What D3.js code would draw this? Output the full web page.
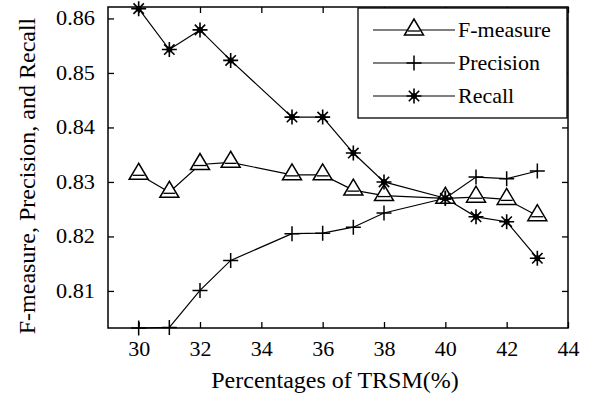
<!DOCTYPE html>
<html>
<head>
<meta charset="utf-8">
<script src="https://cdn.jsdelivr.net/npm/d3@7"></script>
<style>
  body { margin: 0; background: #fff; }
  text { font-family: "Liberation Serif", "Times New Roman", serif; fill: #000; }
</style>
</head>
<body>
<div id="chart"></div>
<script>
var svgWidth = 591;
var svgHeight = 397;

var margin = { top: 7, right: 23, bottom: 69, left: 108 };
var width = svgWidth - margin.left - margin.right;
var height = svgHeight - margin.top - margin.bottom;

// data
var percentages = [30, 31, 32, 33, 35, 36, 37, 38, 40, 41, 42, 43];
var fMeasure = [0.8314, 0.8281, 0.8332, 0.8336, 0.8313, 0.8313, 0.8285, 0.8275, 0.8270, 0.8272, 0.8268, 0.8238];
var precision = [0.8032, 0.8033, 0.8101, 0.8156, 0.8205, 0.8206, 0.8217, 0.8243, 0.8270, 0.8309, 0.8306, 0.8320];
var recall = [0.8618, 0.8543, 0.8579, 0.8523, 0.8419, 0.8419, 0.8353, 0.8300, 0.8270, 0.8236, 0.8227, 0.8160];
var xTicks = [30, 32, 34, 36, 38, 40, 42, 44];
var yTicks = [0.81, 0.82, 0.83, 0.84, 0.85, 0.86];
var seriesNames = ["F-measure", "Precision", "Recall"];

var svg = d3.select("#chart")
  .append("svg")
  .attr("width", svgWidth)
  .attr("height", svgHeight);

var chartGroup = svg.append("g")
  .attr("transform", `translate(${margin.left}, ${margin.top})`);

var xScale = d3.scaleLinear().domain([29, 44]).range([0, width]);
var yScale = d3.scaleLinear().domain([0.8032, 0.8621]).range([height, 0]);

// axes with inward ticks on all four sides
function styleAxis(g, size) {
  g.attr("font-family", null).attr("font-size", null);
  g.select(".domain").remove();
  g.selectAll("line").attr("stroke", "#000").attr("stroke-width", 1.3);
  g.selectAll("text")
    .style("font-family", "'Liberation Serif', serif")
    .style("font-size", size + "px");
}

chartGroup.append("g")
  .attr("transform", `translate(0, ${height})`)
  .call(d3.axisBottom(xScale).tickValues(xTicks).tickSize(-6).tickPadding(12).tickFormat(d3.format("d")))
  .call(styleAxis, 22);

chartGroup.append("g")
  .call(d3.axisTop(xScale).tickValues(xTicks).tickSize(-6).tickFormat(""))
  .call(styleAxis, 22);

var yAxis = chartGroup.append("g")
  .call(d3.axisLeft(yScale).tickValues(yTicks).tickSize(-6).tickPadding(13).tickFormat(d3.format(".2f")))
  .call(styleAxis, 20);
// the labels in the picture are drawn a little wider than the font
yAxis.selectAll("text")
  .attr("textLength", 39)
  .attr("lengthAdjust", "spacingAndGlyphs");

chartGroup.append("g")
  .attr("transform", `translate(${width}, 0)`)
  .call(d3.axisRight(yScale).tickValues(yTicks).tickSize(-6).tickFormat(""))
  .call(styleAxis, 20);

chartGroup.append("rect")
  .attr("width", width)
  .attr("height", height)
  .attr("fill", "none")
  .attr("stroke", "#000")
  .attr("stroke-width", 1.5);

// markers
function triangle(g) {
  g.append("path").attr("d", "M0,-11 L-9.5,5 L9.5,5 Z")
    .attr("fill", "#fff").attr("stroke", "#000").attr("stroke-width", 1.5);
  g.append("line").attr("x1", -6).attr("x2", 6).attr("y1", 1).attr("y2", 1)
    .attr("stroke", "#000").attr("stroke-width", 1.3);
}
function plus(g) {
  g.append("path").attr("d", "M-7.5,0 H7.5 M0,-7.5 V7.5")
    .attr("stroke", "#000").attr("stroke-width", 1.5).attr("fill", "none");
}
function star(g) {
  g.append("path").attr("d", "M-7.5,0 H7.5 M0,-7.5 V7.5 M-5.2,-5.2 L5.2,5.2 M-5.2,5.2 L5.2,-5.2")
    .attr("stroke", "#000").attr("stroke-width", 1.6).attr("fill", "none");
  g.append("circle").attr("r", 3).attr("fill", "#000");
}

var series = [
  { name: seriesNames[0], values: fMeasure, marker: triangle },
  { name: seriesNames[1], values: precision, marker: plus },
  { name: seriesNames[2], values: recall, marker: star }
];

var line = d3.line()
  .x((d, i) => xScale(percentages[i]))
  .y(d => yScale(d));

series.forEach(function(s) {
  chartGroup.append("path")
    .datum(s.values)
    .attr("d", line)
    .attr("fill", "none")
    .attr("stroke", "#000")
    .attr("stroke-width", 1.2);
});

series.forEach(function(s) {
  s.values.forEach(function(v, i) {
    var g = chartGroup.append("g")
      .attr("transform", `translate(${xScale(percentages[i])}, ${yScale(v)})`);
    s.marker(g);
  });
});

// legend
var legend = svg.append("g").attr("transform", "translate(358, 8)");
legend.append("rect")
  .attr("width", 209)
  .attr("height", 110)
  .attr("fill", "#fff")
  .attr("stroke", "#000")
  .attr("stroke-width", 1.3);

series.forEach(function(s, i) {
  var y = 22 + i * 33;
  legend.append("line")
    .attr("x1", 15).attr("x2", 97).attr("y1", y).attr("y2", y)
    .attr("stroke", "#000").attr("stroke-width", 1.2);
  s.marker(legend.append("g").attr("transform", `translate(56, ${y})`));
  legend.append("text")
    .attr("x", 100)
    .attr("y", y + 7)
    .style("font-size", "22px")
    .text(s.name);
});

// axis labels
svg.append("text")
  .attr("x", 335)
  .attr("y", 388)
  .attr("text-anchor", "middle")
  .style("font-size", "24px")
  .text("Percentages of TRSM(%)");

svg.append("text")
  .attr("transform", "translate(35, 176) rotate(-90)")
  .attr("text-anchor", "middle")
  .style("font-size", "24px")
  .text("F-measure, Precision, and Recall");
</script>
</body>
</html>
